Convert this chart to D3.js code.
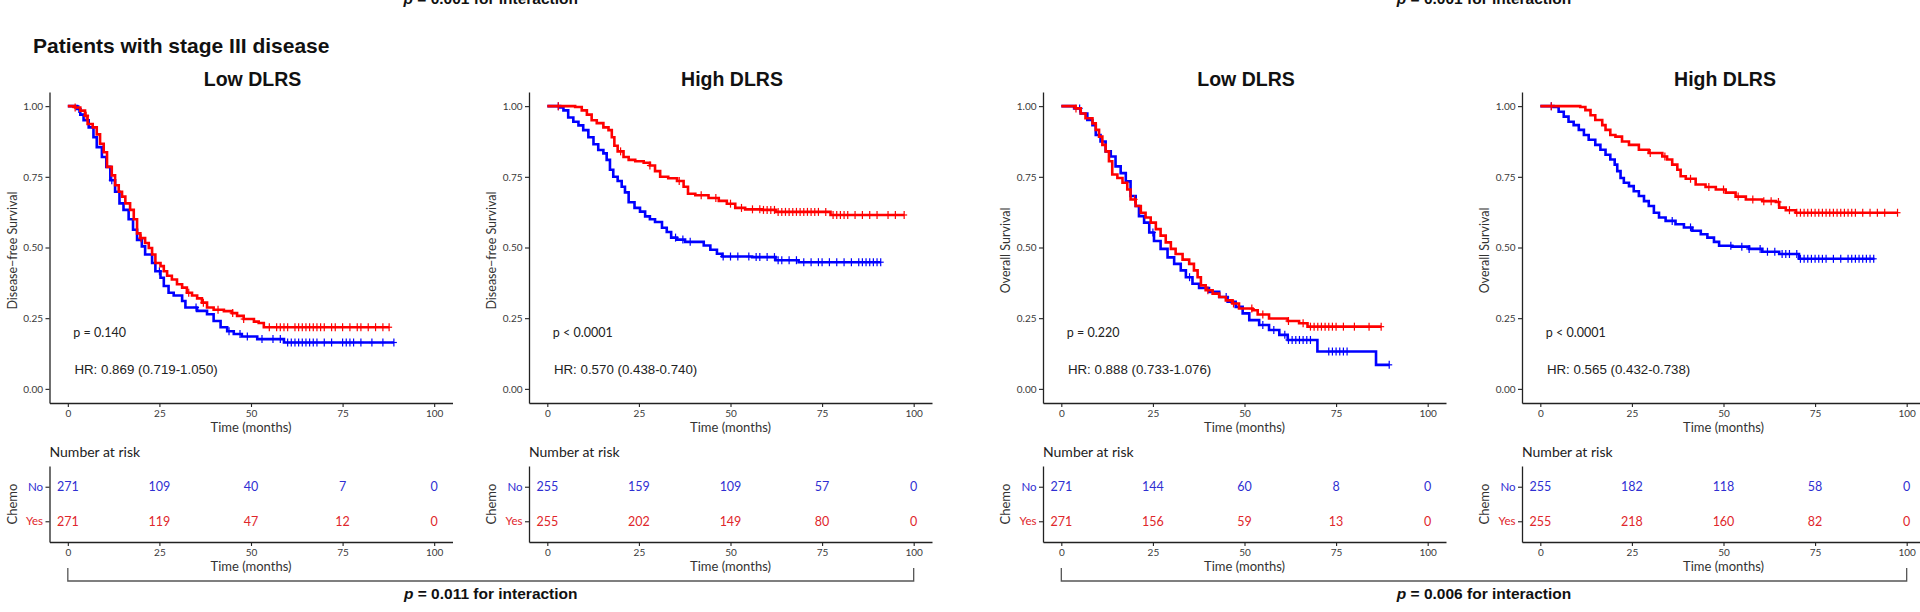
<!DOCTYPE html>
<html><head><meta charset="utf-8">
<script src="https://cdn.jsdelivr.net/npm/d3@7"></script>
<style>
html,body{margin:0;padding:0;background:#fff;}
svg{display:block;}
</style></head>
<body>
<svg id="chart" width="1920" height="612"></svg>
<script>
// ---------- DATA ----------
const mainTitle = "Patients with stage III disease";
const panelTitles = ["Low DLRS", "High DLRS", "Low DLRS", "High DLRS"];
const yAxisTitles = ["Disease\u2212free Survival", "Disease\u2212free Survival", "Overall Survival", "Overall Survival"];
const pTexts = ["p = 0.140", "p < 0.0001", "p = 0.220", "p < 0.0001"];
const hrTexts = ["HR: 0.869 (0.719-1.050)", "HR: 0.570 (0.438-0.740)", "HR: 0.888 (0.733-1.076)", "HR: 0.565 (0.432-0.738)"];
const interactionTexts = ["0.011", "0.006"];
const topInteractionTexts = ["0.001", "0.001"];
const yTicks = [0, 0.25, 0.5, 0.75, 1];
const xTicks = [0, 25, 50, 75, 100];
const groups = ["No", "Yes"];

// risk table numbers at 0,25,50,75,100 months
const riskNo  = [[271,109,40,7,0],[255,159,109,57,0],[271,144,60,8,0],[255,182,118,58,0]];
const riskYes = [[271,119,47,12,0],[255,202,149,80,0],[271,156,59,13,0],[255,218,160,82,0]];

// step curves [time, survival]
const dfsLowYes = [[0,1],[2,0.995],[3.4,0.984],[4.7,0.966],[5.4,0.937],[6.8,0.925],[7.9,0.9],[8.8,0.867],[9.8,0.837],[10.7,0.785],[12,0.755],[12.9,0.72],[13.9,0.697],[14.8,0.68],[15.7,0.656],[17,0.633],[18,0.6],[18.9,0.55],[19.8,0.533],[21.1,0.516],[22.1,0.498],[23,0.475],[23.9,0.445],[25.3,0.434],[26.2,0.416],[27.1,0.4],[28.4,0.387],[29.8,0.37],[31.2,0.358],[32.5,0.34],[33.9,0.33],[35.3,0.32],[36.6,0.305],[38,0.288],[39.8,0.28],[42.6,0.275],[44.8,0.268],[46.2,0.258],[48,0.247],[50.8,0.238],[52.1,0.233],[53.5,0.218],[87.7,0.218]];
const dfsLowNo = [[0,1],[2.5,0.99],[3.4,0.97],[4.3,0.95],[5.7,0.925],[7,0.89],[7.9,0.855],[9.3,0.82],[10.5,0.785],[11.6,0.738],[12.9,0.697],[14.1,0.656],[15.2,0.633],[16.6,0.6],[17.8,0.563],[18.9,0.527],[20.2,0.504],[21.1,0.475],[23,0.445],[23.9,0.416],[25.3,0.393],[26.2,0.364],[27.5,0.34],[28.9,0.33],[31.2,0.311],[32.1,0.288],[35.3,0.276],[38,0.264],[39.8,0.24],[41.7,0.218],[43.5,0.204],[45.3,0.194],[47.5,0.185],[51.7,0.176],[59,0.164],[89,0.164]];
const dfsHighYes = [[0,1],[7.6,0.997],[9.4,0.985],[10.8,0.97],[12.1,0.95],[13.5,0.94],[15.3,0.925],[16.7,0.915],[17.6,0.89],[18.3,0.86],[19.2,0.84],[20.8,0.82],[22.2,0.81],[24,0.805],[26.3,0.8],[28,0.79],[29.4,0.77],[30.8,0.75],[33,0.745],[35.4,0.735],[37.2,0.715],[38.4,0.69],[40.4,0.685],[44,0.675],[46.8,0.665],[49,0.655],[51.3,0.64],[54,0.635],[58.6,0.633],[62.3,0.626],[77.3,0.615],[97.4,0.615]];
const dfsHighNo = [[0,1],[3.5,0.995],[4.4,0.985],[5.7,0.96],[7.1,0.945],[8.5,0.932],[9.8,0.915],[11.2,0.89],[12.6,0.865],[13.9,0.845],[15.3,0.833],[16.2,0.81],[17.1,0.775],[18,0.75],[19.2,0.735],[20.3,0.715],[21.2,0.695],[22.2,0.66],[23.8,0.64],[25.3,0.627],[26.7,0.61],[28,0.6],[29.4,0.59],[31.3,0.57],[32.6,0.555],[33.8,0.535],[35.4,0.528],[37.6,0.52],[42.7,0.507],[44.5,0.492],[46.3,0.478],[47.7,0.468],[55.9,0.466],[62.3,0.455],[68.6,0.448],[91,0.448]];
const osLowYes = [[0,1],[3.9,0.992],[5.3,0.974],[6.6,0.957],[8.5,0.939],[9.4,0.916],[10.3,0.892],[11.2,0.863],[12.1,0.84],[13,0.805],[13.9,0.758],[15.3,0.746],[16.7,0.729],[18,0.705],[18.9,0.67],[20.3,0.647],[21.7,0.623],[23,0.606],[24.4,0.588],[25.8,0.565],[27.1,0.542],[28.5,0.518],[29.9,0.495],[31.2,0.477],[33.1,0.457],[34.9,0.442],[36.2,0.419],[37.2,0.395],[38.1,0.366],[39.4,0.349],[41.3,0.337],[43.1,0.325],[44.9,0.313],[46.7,0.302],[48.5,0.284],[52.2,0.278],[53.6,0.263],[56.7,0.249],[61.8,0.24],[64.9,0.232],[67.2,0.22],[87.3,0.22]];
const osLowNo = [[0,1],[3.5,0.992],[5.3,0.974],[7.1,0.951],[8.5,0.933],[9.4,0.898],[10.7,0.875],[12.1,0.84],[13.5,0.822],[14.8,0.787],[16.2,0.763],[17.6,0.734],[18.9,0.682],[20.3,0.647],[21.2,0.611],[22.6,0.588],[24,0.553],[25.3,0.523],[27.1,0.495],[29,0.465],[30.8,0.442],[32.6,0.419],[34,0.395],[35.8,0.372],[37.6,0.357],[40.3,0.343],[43.1,0.325],[45.4,0.308],[47.6,0.29],[49.5,0.267],[51.3,0.243],[54,0.226],[56.7,0.208],[59.5,0.191],[61.8,0.173],[69.9,0.132],[85.9,0.085],[89.5,0.085]];
const osHighYes = [[0,1],[10.9,0.997],[12.3,0.986],[13.7,0.968],[15,0.951],[16.9,0.933],[17.8,0.916],[19.1,0.898],[20.5,0.892],[22.3,0.875],[24.2,0.863],[26.9,0.846],[29.6,0.834],[33.3,0.822],[34.6,0.811],[36,0.793],[37.4,0.775],[38.3,0.752],[39.7,0.743],[42.4,0.723],[45.1,0.714],[47.9,0.705],[50.6,0.694],[53.3,0.68],[56.1,0.67],[60.6,0.664],[64.3,0.661],[65.2,0.641],[67,0.632],[69.7,0.623],[97.5,0.623]];
const osHighNo = [[0,1],[3.6,0.997],[5,0.98],[6.4,0.963],[7.7,0.945],[9.1,0.933],[10.5,0.916],[11.9,0.898],[13.2,0.881],[15,0.863],[16.4,0.846],[17.8,0.828],[19.1,0.811],[20.3,0.793],[21,0.77],[21.9,0.746],[22.8,0.729],[24.2,0.717],[25.5,0.699],[26.9,0.682],[28.3,0.664],[29.6,0.647],[31,0.623],[32.4,0.606],[34.2,0.594],[36.9,0.582],[39.2,0.571],[41.5,0.559],[43.8,0.547],[45.6,0.535],[47.4,0.52],[48.8,0.506],[52.4,0.503],[57,0.495],[60.6,0.485],[65.2,0.477],[70.6,0.46],[91.2,0.46]];

// censoring times
const censDfsLowYes = [2,5,20,33,37,41,45,48,55,57,58,59,60,62,63,64,65,66,67,68,69,70,72,73,75,77,79,80,82,84,86,87.7];
const censDfsLowNo = [3,12,25,35,44,47,49,53,56,58,60,61,62,63,64,65,66,67,68,70,72,75,76,77,78,80,83,86,89];
const censDfsHighYes = [3,20,28,36,42,46,50,53,56,58,59,60,61,62,63,64,65,66,67,68,69,70,71,72,73,74,76,78,79,80,81,82,84,86,88,90,93,95,97.4];
const censDfsHighNo = [3,35,37,39,48,50,52,55,57,58,60,62,63,64,66,68,70,72,74,75,77,79,81,83,85,86,87,88,89,90,91];
const censOsLowYes = [4,20,40,47,52,55,62,66,68,69,70,71,72,73,74,75,77,80,84,87.3];
const censOsLowNo = [5,25,35,45,55,58,61,62,63,64,65,66,67,68,73,74,75,76,77,78,89.5];
const censOsHighYes = [3,30,34,41,46,50,54,58,61,63,65,68,70,71,72,73,74,75,76,77,78,79,80,81,82,83,84,85,86,88,90,92,94,97.5];
const censOsHighNo = [3,36,41,52,55,57,60,62,64,66,67,68,70,71,72,73,74,75,76,77,78,80,82,84,85,86,87,88,89,90,91];

const curvesNo = [dfsLowNo, dfsHighNo, osLowNo, osHighNo];
const curvesYes = [dfsLowYes, dfsHighYes, osLowYes, osHighYes];
const censNo = [censDfsLowNo, censDfsHighNo, censOsLowNo, censOsHighNo];
const censYes = [censDfsLowYes, censDfsHighYes, censOsLowYes, censOsHighYes];

// ---------- LAYOUT / STYLE ----------
const axisXs = [49.5, 529, 1043, 1522];
const plotW = 403;
const plotTop = 92, plotBottom = 403;
const tableTop = 466, tableBottom = 542;
const lineColor = {No: "#0000ff", Yes: "#ff0000"};
const textColor = {No: "#2f2fd2", Yes: "#e0262b"};
const axisColor = "#222";
const humanist = "Lato, 'Open Sans', sans-serif";
const arial = "'Liberation Sans', Arial, sans-serif";

const svg = d3.select("#chart");
svg.append("rect").attr("width", 1920).attr("height", 612).attr("fill", "#fff");

// main title
svg.append("text").attr("x", 33).attr("y", 53)
  .attr("font-family", arial).attr("font-weight", "bold").attr("font-size", 21)
  .attr("fill", "#111").text(mainTitle);

function stepValue(curve, t) {
  let v = curve[0][1];
  for (const p of curve) { if (p[0] <= t) v = p[1]; else break; }
  return v;
}

function styleAxis(g) {
  g.selectAll("path.domain").attr("stroke", axisColor).attr("stroke-width", 1.3);
  g.selectAll(".tick line").attr("stroke", axisColor).attr("stroke-width", 1.1);
  g.selectAll(".tick text").attr("font-family", humanist).attr("font-size", 10).attr("fill", "#3a3a3a");
}

const xScales = [];
axisXs.forEach((ax, i) => {
  const x = d3.scaleLinear().domain([-5, 105]).range([ax, ax + plotW]);
  xScales.push(x);
  const y = d3.scaleLinear().domain([-0.05, 1.05]).range([plotBottom, plotTop]);
  const g = svg.append("g");

  // panel title
  g.append("text").attr("x", ax + 203).attr("y", 86).attr("text-anchor", "middle")
    .attr("font-family", arial).attr("font-weight", "bold").attr("font-size", 19.5)
    .attr("fill", "#111").text(panelTitles[i]);

  // axes
  const gy = g.append("g").attr("transform", `translate(${ax},0)`)
    .call(d3.axisLeft(y).tickValues(yTicks).tickFormat(d3.format(".2f")).tickSize(4).tickSizeOuter(0).tickPadding(2.5));
  styleAxis(gy);
  const gx = g.append("g").attr("transform", `translate(0,${plotBottom})`)
    .call(d3.axisBottom(x).tickValues(xTicks).tickSize(4).tickSizeOuter(0).tickPadding(3));
  styleAxis(gx);

  g.append("text").attr("transform", `translate(${ax - 33},${(plotTop + plotBottom) / 2 + 3}) rotate(-90)`)
    .attr("text-anchor", "middle").attr("font-family", humanist).attr("font-size", 12.5)
    .attr("fill", "#333").text(yAxisTitles[i]);
  g.append("text").attr("x", x(50)).attr("y", 432).attr("text-anchor", "middle")
    .attr("font-family", humanist).attr("font-size", 13).attr("fill", "#333").text("Time (months)");

  // curves
  const line = d3.line().x(d => x(d[0])).y(d => y(d[1])).curve(d3.curveStepAfter);
  [["No", curvesNo[i], censNo[i]], ["Yes", curvesYes[i], censYes[i]]].forEach(([grp, curve, cens]) => {
    g.append("path").datum(curve).attr("d", line)
      .attr("fill", "none").attr("stroke", lineColor[grp]).attr("stroke-width", 2.6)
      .attr("stroke-linejoin", "miter");
    const cg = g.append("g").attr("stroke", lineColor[grp]).attr("stroke-width", 1.2);
    cens.forEach(t => {
      const cx = x(t), cy = y(stepValue(curve, t));
      cg.append("line").attr("x1", cx).attr("x2", cx).attr("y1", cy - 4).attr("y2", cy + 4);
      cg.append("line").attr("x1", cx - 3).attr("x2", cx + 3).attr("y1", cy).attr("y2", cy);
    });
  });

  // annotations
  g.append("text").attr("x", x(1.5)).attr("y", y(0.2)).attr("dy", "0.35em")
    .attr("font-family", humanist).attr("font-size", 12.5).attr("fill", "#222").text(pTexts[i]);
  g.append("text").attr("x", x(1.8)).attr("y", y(0.07)).attr("dy", "0.35em")
    .attr("font-family", arial).attr("font-size", 13.3).attr("fill", "#222").text(hrTexts[i]);

  // risk table
  g.append("text").attr("x", ax).attr("y", 457)
    .attr("font-family", humanist).attr("font-size", 14).attr("fill", "#222").text("Number at risk");
  const yr = d3.scalePoint().domain(groups).range([tableTop, tableBottom]).padding(0.6);
  const gyr = g.append("g").attr("transform", `translate(${ax},0)`)
    .call(d3.axisLeft(yr).tickSize(4).tickSizeOuter(0).tickPadding(2.5));
  styleAxis(gyr);
  gyr.selectAll(".tick text").attr("font-size", 11.5).attr("fill", d => textColor[d]);
  const gxr = g.append("g").attr("transform", `translate(0,${tableBottom})`)
    .call(d3.axisBottom(x).tickValues(xTicks).tickSize(4).tickSizeOuter(0).tickPadding(3));
  styleAxis(gxr);
  g.append("text").attr("x", x(50)).attr("y", 571).attr("text-anchor", "middle")
    .attr("font-family", humanist).attr("font-size", 13).attr("fill", "#333").text("Time (months)");
  g.append("text").attr("transform", `translate(${ax - 33},${(tableTop + tableBottom) / 2}) rotate(-90)`)
    .attr("text-anchor", "middle").attr("font-family", humanist).attr("font-size", 13)
    .attr("fill", "#333").text("Chemo");
  [["No", riskNo[i]], ["Yes", riskYes[i]]].forEach(([grp, vals]) => {
    g.selectAll(null).data(vals).enter().append("text")
      .attr("x", (d, j) => x(xTicks[j])).attr("y", yr(grp)).attr("dy", "0.35em")
      .attr("text-anchor", "middle").attr("font-family", humanist).attr("font-size", 12.5)
      .attr("fill", textColor[grp]).text(d => d);
  });
});

// interaction brackets
[[0, 1], [2, 3]].forEach(([a, b], k) => {
  const x0 = xScales[a](0), x1 = xScales[b](100);
  svg.append("path").attr("d", `M${x0},568V581H${x1}V568`)
    .attr("fill", "none").attr("stroke", "#555").attr("stroke-width", 1.3);
  const cx = (x0 + x1) / 2;
  const t = svg.append("text").attr("x", cx).attr("y", 599).attr("text-anchor", "middle")
    .attr("font-family", arial).attr("font-weight", "bold").attr("font-size", 15.5).attr("fill", "#111");
  t.append("tspan").attr("font-style", "italic").text("p");
  t.append("tspan").text(" = " + interactionTexts[k] + " for interaction");
  // text from the figure above, cut off by the top edge as in the reference
  const t2 = svg.append("text").attr("x", cx).attr("y", 4).attr("text-anchor", "middle")
    .attr("font-family", arial).attr("font-weight", "bold").attr("font-size", 15.5).attr("fill", "#111");
  t2.append("tspan").attr("font-style", "italic").text("p");
  t2.append("tspan").text(" = " + topInteractionTexts[k] + " for interaction");
});
</script>
</body></html>
